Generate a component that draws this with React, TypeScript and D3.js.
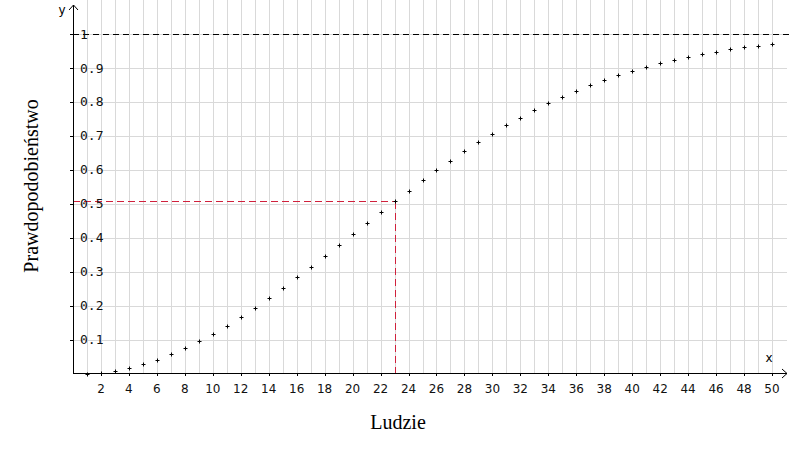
import React from "react";
import * as d3 from "d3";

const people: number[] = Array.from({ length: 50 }, (_, i) => i + 1);
const probability: number[] = [
  0, 0.0027, 0.0082, 0.0164, 0.0271, 0.0405, 0.0562, 0.0743, 0.0946, 0.1169,
  0.1411, 0.167, 0.1944, 0.2231, 0.2529, 0.2836, 0.315, 0.3469, 0.3791, 0.4114,
  0.4437, 0.4757, 0.5073, 0.5383, 0.5687, 0.5982, 0.6269, 0.6545, 0.681, 0.7063,
  0.7305, 0.7533, 0.775, 0.7953, 0.8144, 0.8322, 0.8487, 0.8641, 0.8782, 0.8912,
  0.9032, 0.914, 0.9239, 0.9329, 0.941, 0.9483, 0.9548, 0.9606, 0.9658, 0.9704,
];
const xTicks: number[] = [2, 4, 6, 8, 10, 12, 14, 16, 18, 20, 22, 24, 26, 28, 30, 32, 34, 36, 38, 40, 42, 44, 46, 48, 50];
const yTicks: number[] = [0.1, 0.2, 0.3, 0.4, 0.5, 0.6, 0.7, 0.8, 0.9, 1];
const yTickLabels: string[] = ["0.1", "0.2", "0.3", "0.4", "0.5", "0.6", "0.7", "0.8", "0.9", "1"];
const highlightX = 23;
const highlightY = 0.5073;

export default function App() {
  const W = 790, H = 450;
  const x = d3.scaleLinear().domain([0, 50]).range([73, 772]);
  const y = d3.scaleLinear().domain([0, 1]).range([373.5, 34]);
  const x0 = x(0), y0 = 373;
  const gridX = d3.range(1, 51);
  const gridY = d3.range(1, 11).map((v) => v / 10);
  const red = "#d0213c";
  const hy = Math.round(y(highlightY)) + 0.5;
  const hx = Math.round(x(highlightX)) + 0.5;
  return (
    <svg width={W} height={H} style={{ position: "absolute", left: 0, top: 0, background: "#fff" }}>
      <rect width={W} height={H} fill="#fff" />
      {gridX.map((v) => (
        <line key={"gx" + v} x1={Math.round(x(v)) + 0.5} x2={Math.round(x(v)) + 0.5} y1={0} y2={y0} stroke="#d9d9d9" strokeWidth={1} />
      ))}
      {gridY.map((v) => (
        <line key={"gy" + v} x1={x0} x2={787} y1={Math.round(y(v)) + 0.5} y2={Math.round(y(v)) + 0.5} stroke="#d9d9d9" strokeWidth={1} />
      ))}
      <line x1={x0} x2={790} y1={Math.round(y(1)) + 0.5} y2={Math.round(y(1)) + 0.5} stroke="#000" strokeDasharray="6,4" strokeWidth={1} />
      <line x1={x0} x2={hx} y1={hy} y2={hy} stroke={red} strokeDasharray="7,4" strokeWidth={1} shapeRendering="crispEdges" />
      <line x1={hx} x2={hx} y1={hy} y2={y0} stroke={red} strokeDasharray="7,4" strokeWidth={1} shapeRendering="crispEdges" />
      <line x1={x0 + 0.5} x2={x0 + 0.5} y1={y0} y2={5} stroke="#000" strokeWidth={1} />
      <polyline points={`${x0 - 4},10 ${x0 + 0.5},5 ${x0 + 5},10`} fill="none" stroke="#000" />
      <line x1={x0} x2={787} y1={y0 + 0.5} y2={y0 + 0.5} stroke="#000" strokeWidth={1} />
      <polyline points={`782,${y0 - 4} 787,${y0 + 0.5} 782,${y0 + 5}`} fill="none" stroke="#000" />
      <text x={62} y={14} fontFamily="DejaVu Sans" fontSize={12} textAnchor="middle">y</text>
      <text x={769} y={362} fontFamily="DejaVu Sans" fontSize={12} textAnchor="middle">x</text>
      {yTicks.map((v, i) => (
        <g key={"yt" + v}>
          <line x1={x0 - 3} x2={x0} y1={Math.round(y(v)) + 0.5} y2={Math.round(y(v)) + 0.5} stroke="#000" />
          <text x={80} y={y(v)} dy="0.35em" fontFamily="DejaVu Sans Mono" fontSize={13} fill="#111">{yTickLabels[i]}</text>
        </g>
      ))}
      {xTicks.map((v) => (
        <g key={"xt" + v}>
          <line x1={Math.round(x(v)) + 0.5} x2={Math.round(x(v)) + 0.5} y1={y0} y2={y0 + 3} stroke="#000" />
          <text x={x(v)} y={393} textAnchor="middle" fontFamily="DejaVu Sans" fontSize={12} fill="#111">{v}</text>
        </g>
      ))}
      {people.map((n, i) => {
        const px = Math.round(x(n)) + 0.5;
        const py = Math.round(y(probability[i])) + 0.5;
        return (
          <g key={"p" + n} stroke="#000" strokeWidth={1}>
            <line x1={px - 2} x2={px + 2} y1={py} y2={py} />
            <line x1={px} x2={px} y1={py - 2} y2={py + 2} />
          </g>
        );
      })}
      <text x={398} y={429} textAnchor="middle" fontFamily="Liberation Serif" fontSize={20}>Ludzie</text>
      <text transform="translate(38,186) rotate(-90)" textAnchor="middle" fontFamily="Liberation Serif" fontSize={20}>Prawdopodobieństwo</text>
    </svg>
  );
}
